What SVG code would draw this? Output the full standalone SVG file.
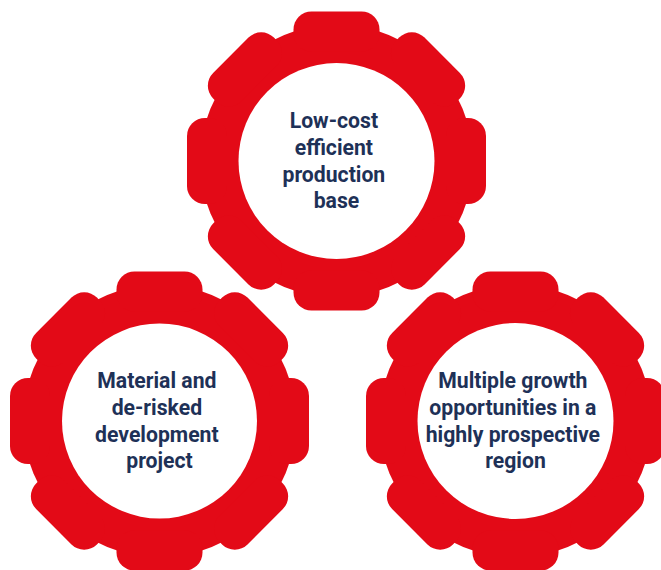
<svg xmlns="http://www.w3.org/2000/svg" xmlns:xlink="http://www.w3.org/1999/xlink" width="661" height="570" viewBox="0 0 661 570">
  <style>
    .gear { fill: #e30a17; }
    .hole { fill: #ffffff; }
    .label { font-family: Roboto, "Liberation Sans", Arial, sans-serif; font-weight: 700; font-size: 21.2px; fill: #1e3157; text-anchor: middle; }
  </style>
  <defs>
    <g id="gearShape">
      <circle r="136.5"/>
      <rect x="-43" y="-149.5" width="86" height="40" rx="18"/>
      <rect x="-43" y="-149.5" width="86" height="40" rx="18" transform="rotate(45)"/>
      <rect x="-43" y="-149.5" width="86" height="40" rx="18" transform="rotate(90)"/>
      <rect x="-43" y="-149.5" width="86" height="40" rx="18" transform="rotate(135)"/>
      <rect x="-43" y="-149.5" width="86" height="40" rx="18" transform="rotate(180)"/>
      <rect x="-43" y="-149.5" width="86" height="40" rx="18" transform="rotate(225)"/>
      <rect x="-43" y="-149.5" width="86" height="40" rx="18" transform="rotate(270)"/>
      <rect x="-43" y="-149.5" width="86" height="40" rx="18" transform="rotate(315)"/>
    </g>
  </defs>
  <g id="connectors"></g>
  <g id="node-top" transform="translate(336.5,161)">
    <use href="#gearShape" xlink:href="#gearShape" class="gear"/>
    <circle class="hole" r="98"/>
    <text class="label">
      <tspan x="0" y="-33">Low-cost</tspan>
      <tspan x="0" y="-6">efficient</tspan>
      <tspan x="0" y="21">production</tspan>
      <tspan x="0" y="47">base</tspan>
    </text>
  </g>
  <g id="node-left" transform="translate(159.5,421)">
    <use href="#gearShape" xlink:href="#gearShape" class="gear"/>
    <circle class="hole" r="97.5"/>
    <text class="label">
      <tspan x="0" y="-33">Material and</tspan>
      <tspan x="0" y="-6">de-risked</tspan>
      <tspan x="0" y="21">development</tspan>
      <tspan x="0" y="47">project</tspan>
    </text>
  </g>
  <g id="node-right" transform="translate(515.5,421)">
    <use href="#gearShape" xlink:href="#gearShape" class="gear"/>
    <circle class="hole" r="98"/>
    <text class="label">
      <tspan x="0" y="-33">Multiple growth</tspan>
      <tspan x="0" y="-6">opportunities in a</tspan>
      <tspan x="0" y="21">highly prospective</tspan>
      <tspan x="0" y="47">region</tspan>
    </text>
  </g>
</svg>
